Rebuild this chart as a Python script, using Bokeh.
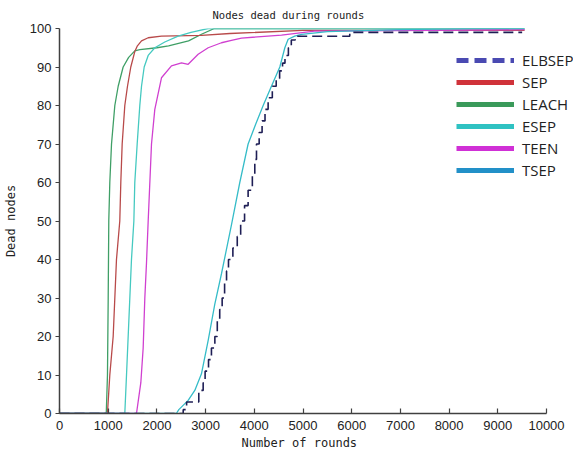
from bokeh.plotting import figure
from bokeh.models import Legend, LegendItem, FixedTicker, Range1d, Title
from bokeh.embed import file_html
from bokeh.resources import INLINE

# Number of dead nodes versus simulation round for each protocol
leach_rounds = [0, 960, 985, 1000, 1012, 1033, 1068, 1136, 1205, 1307, 1420, 1546, 1650,
                2000, 2240, 2650, 2915, 3180, 9550]
leach_dead = [0, 0, 10, 30, 50, 60, 70, 80, 85, 90, 92.5, 94.2, 94.5,
              95, 95.5, 96.8, 98.5, 100, 100]

sep_rounds = [0, 985, 1033, 1102, 1136, 1170, 1238, 1259, 1287, 1341, 1396, 1464, 1546,
              1600, 1684, 1821, 2094, 2915, 3500, 5000, 9550]
sep_dead = [0, 0, 10, 20, 30, 40, 50, 60, 70, 80, 85, 90, 94,
            95.5, 96.8, 97.6, 98, 98.2, 98.7, 99.5, 99.5]

esep_rounds = [0, 1341, 1376, 1410, 1444, 1478, 1527, 1546, 1595, 1649, 1684, 1739, 1821,
               1957, 2162, 2436, 2700, 3050, 9550]
esep_dead = [0, 0, 10, 20, 30, 40, 50, 60, 70, 80, 85, 90, 93,
             95, 96.5, 98, 99, 100, 100]

teen_rounds = [0, 1581, 1670, 1718, 1752, 1786, 1821, 1855, 1889, 1957, 2094, 2299, 2505,
               2642, 2847, 3053, 3326, 3531, 3737, 4558, 5236, 9550]
teen_dead = [0, 0, 8, 17, 30, 39, 50, 60, 70, 79, 87.2, 90.3, 91.1,
             90.7, 93.3, 95, 96.3, 96.9, 97.5, 98.3, 99.3, 99.7]

tsep_rounds = [0, 2400, 2450, 2642, 2778, 2915, 3053, 3189, 3326, 3531, 3702, 3873, 4024,
               4182, 4352, 4524, 4627, 4695, 4830, 4970, 5500, 7000, 8500, 9550]
tsep_dead = [0, 0, 1, 3.4, 6, 10.3, 19, 28.4, 36.3, 49, 60, 70, 75,
             80, 85, 90, 95, 97.2, 98, 98.5, 99.2, 99.7, 100, 100]

elbsep_rounds = [0, 2540, 2610, 2860, 2950, 2990, 3060, 3120, 3190, 3240, 3290, 3340, 3390,
                 3430, 3470, 3560, 3650, 3720, 3800, 3873, 3960, 4010, 4045, 4100, 4160,
                 4220, 4284, 4370, 4450, 4520, 4580, 4630, 4700, 4760, 4840, 5960, 9500]
elbsep_dead = [0, 1, 3, 6, 8, 11, 14, 17, 20, 24, 27, 30, 34,
               37, 40, 43, 46, 50, 54, 58, 62, 66, 70, 73, 76,
               79, 82, 85, 87, 89, 91, 93, 95, 97, 98, 99, 99]

x_ticks = [0, 1000, 2000, 3000, 4000, 5000, 6000, 7000, 8000, 9000, 10000]
y_ticks = [0, 10, 20, 30, 40, 50, 60, 70, 80, 90, 100]

# The frame runs past the end of the x axis so the legend has room on the right;
# the axis line itself stops at 10000.
x_end = 10000 * 515 / 487

p = figure(frame_width=515, frame_height=385,
           min_border_left=58, min_border_right=0, min_border_top=28, min_border_bottom=43,
           x_range=Range1d(0, x_end), y_range=Range1d(0, 100),
           output_backend="svg", toolbar_location=None)

p.title.text = "Nodes dead during rounds"
p.title.align = "left"
p.title.vertical_align = "top"
p.title.offset = 153
p.title.standoff = 12
p.title.text_font = "DejaVu Sans Mono"
p.title.text_font_size = "10.5px"
p.title.text_font_style = "normal"
p.title.text_color = "#222222"

p.outline_line_color = None
p.xgrid.grid_line_color = None
p.ygrid.grid_line_color = None
p.background_fill_color = "white"
p.border_fill_color = "white"

p.xaxis.ticker = FixedTicker(ticks=x_ticks)
p.yaxis.ticker = FixedTicker(ticks=y_ticks)
p.xaxis.bounds = (0, 10000)
for ax in (p.xaxis[0], p.yaxis[0]):
    ax.axis_line_color = "#404040"
    ax.axis_line_width = 1.5
    ax.major_tick_line_color = "#404040"
    ax.major_tick_line_width = 1.2
    ax.minor_tick_line_color = None
    ax.major_label_text_font = "Liberation Sans"
    ax.major_label_text_font_size = "13px"
    ax.major_label_text_color = "#222222"
    ax.axis_label_text_font = "DejaVu Sans Mono"
    ax.axis_label_text_font_size = "12px"
    ax.axis_label_text_font_style = "normal"
    ax.axis_label_text_color = "#222222"

p.xaxis.major_tick_in = 5
p.xaxis.major_tick_out = 0
p.xaxis.major_label_standoff = 7

p.yaxis.axis_label = "Dead nodes"
p.yaxis.major_tick_in = 0
p.yaxis.major_tick_out = 4
p.yaxis.major_label_standoff = 4
p.yaxis.axis_label_standoff = 9

# x axis caption, centred under the 0-10000 axis
x_caption = Title(text="Number of rounds", align="left", offset=182, standoff=3,
                  text_font="DejaVu Sans Mono", text_font_size="12px",
                  text_font_style="normal", text_color="#222222")
p.add_layout(x_caption, "below")

# Curves
p.line(leach_rounds, leach_dead, line_color="#3f9f66", line_width=1.3)
p.line(sep_rounds, sep_dead, line_color="#b84a4a", line_width=1.3)
p.line(esep_rounds, esep_dead, line_color="#45c9c0", line_width=1.3)
p.line(teen_rounds, teen_dead, line_color="#d040d0", line_width=1.3)
p.line(tsep_rounds, tsep_dead, line_color="#35bcc8", line_width=1.3)
p.step(elbsep_rounds, elbsep_dead, mode="after", line_color="#1e1e55",
       line_width=1.6, line_dash="10 5")

# Legend swatches (thicker than the curves); their data is never inside the view
names = ["ELBSEP", "SEP", "LEACH", "ESEP", "TEEN", "TSEP"]
swatch_colors = ["#4a4ab2", "#d0323a", "#3a9a5a", "#2fc2c2", "#d030d6", "#2290c8"]
nan = float("nan")
items = []
for name, col in zip(names, swatch_colors):
    dash = "12 6" if name == "ELBSEP" else "solid"
    r = p.line([nan], [nan], line_color=col, line_width=5, line_dash=dash)
    items.append(LegendItem(label=name, renderers=[r]))

legend = Legend(items=items, location=(397, 233),
                glyph_width=58, glyph_height=20, label_height=20, spacing=2,
                label_standoff=8, padding=0, margin=0,
                border_line_color=None, background_fill_alpha=0,
                label_text_font="Open Sans", label_text_font_size="15px",
                label_text_color="#222222")
p.add_layout(legend, "center")

open("out.html", "w").write(file_html(p, INLINE))
